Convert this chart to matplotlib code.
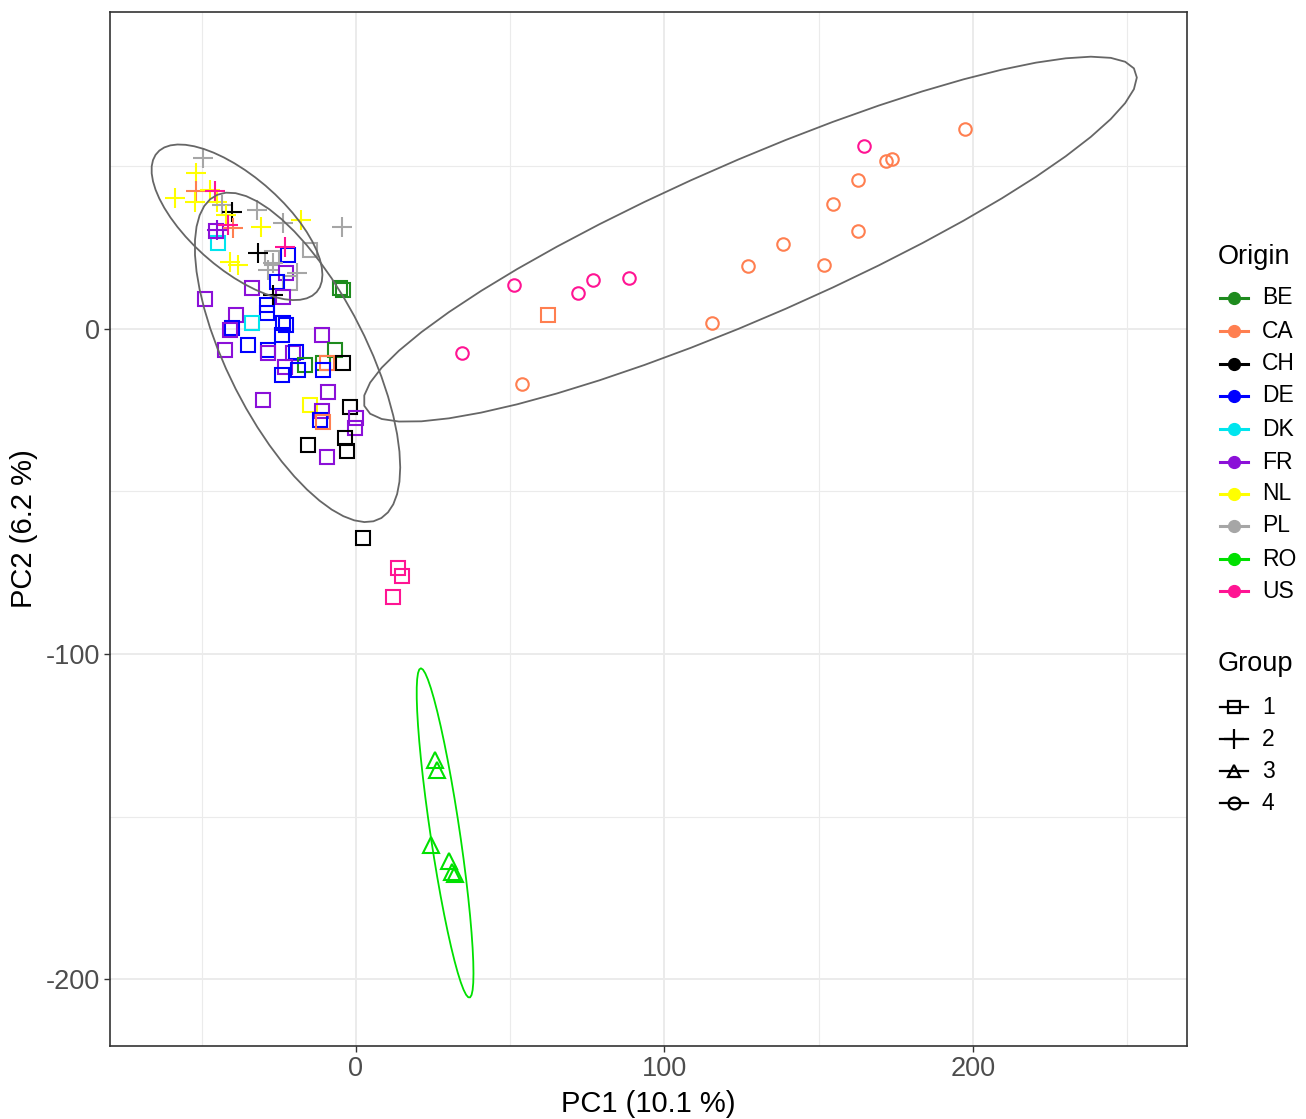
import numpy as np
import matplotlib
matplotlib.use("Agg")
import matplotlib.pyplot as plt
from matplotlib.lines import Line2D
from matplotlib.patches import Polygon
from matplotlib.ticker import MultipleLocator

plt.rcParams['font.family'] = ['Liberation Sans', 'DejaVu Sans']
plt.rcParams['axes.unicode_minus'] = False

# ---------------- data ----------------
origins = ["BE", "CA", "CH", "DE", "DK", "FR", "NL", "PL", "RO", "US"]
origin_colors = ["#1E8B1E", "#FF7F50", "#000000", "#0000FF", "#00E5EE",
                 "#8B10D8", "#FFFF00", "#A6A6A6", "#00E000", "#FF1493"]
groups = ["1", "2", "3", "4"]
group_markers = ["s", "+", "^", "o"]

# group 2 (crosses)
g2_origin = ["PL", "NL", "NL", "CA", "NL", "NL", "US", "NL", "PL", "CH",
             "PL", "NL", "CA", "US", "FR", "NL", "PL", "NL", "PL", "CH",
             "US", "NL", "NL", "PL", "PL", "CH", "PL"]
g2_pc1 = [-49.5, -51.7, -58.7, -51.7, -52.2, -47.3, -45.7, -45.1, -43.5, -40.3,
          -32.2, -42.0, -39.8, -41.4, -45.1, -30.6, -23.6, -17.7, -4.6, -31.7,
          -23.0, -40.8, -38.1, -28.4, -19.2, -26.8, -27.0]
g2_pc2 = [52.5, 47.9, 40.2, 42.3, 39.2, 42.8, 42.3, 39.2, 38.2, 36.1,
          36.6, 35.0, 31.0, 32.0, 30.5, 31.5, 32.5, 33.5, 31.5, 23.3,
          25.3, 20.7, 19.7, 18.2, 17.1, 10.5, 20.3]

# group 1 (squares)
g1_origin = ["DK", "DE", "PL", "PL", "FR", "PL", "FR", "DE", "FR", "BE",
             "BE", "FR", "FR", "DE", "DE", "DK", "DE", "FR", "DE", "DE",
             "DE", "DE", "FR", "DE", "FR", "FR", "FR", "DE", "BE", "BE",
             "FR", "DE", "DE", "BE", "CA", "DE", "CH", "FR", "FR", "NL",
             "CH", "FR", "DE", "CA", "FR", "FR", "CH", "CH", "CH", "FR",
             "CH", "US", "US", "US", "CA", "FR"]
g1_pc1 = [-44.6, -21.9, -14.9, -27.3, -22.5, -21.4, -33.8, -25.5, -23.6, -5.2,
          -4.1, -48.9, -38.8, -28.9, -28.9, -33.8, -40.3, -40.8, -23.6, -22.5,
          -24.1, -34.9, -42.5, -28.4, -28.4, -11.1, -20.3, -19.5, -6.8, -16.5,
          -23.0, -24.1, -18.7, -10.6, -9.5, -10.6, -4.1, -8.9, -30.0, -14.9,
          -1.9, -11.1, -11.7, -10.6, 0.2, -0.3, -15.5, -3.6, -3.0, -9.5,
          2.2, 13.7, 15.1, 11.9, 62.2, -45.5]
g1_pc2 = [26.3, 22.8, 24.3, 21.7, 17.1, 14.0, 12.5, 14.5, 9.8, 12.5,
          12.0, 9.3, 4.3, 7.4, 4.8, 1.7, 0.2, -0.3, 1.7, 1.2,
          -1.8, -4.9, -6.5, -6.5, -7.5, -1.8, -7.5, -7.0, -6.5, -11.1,
          -11.6, -14.2, -12.6, -10.6, -10.6, -12.6, -10.6, -19.3, -21.8, -23.4,
          -23.9, -25.4, -28.0, -28.5, -27.5, -30.6, -35.7, -33.6, -37.7, -39.3,
          -64.4, -73.6, -76.0, -82.4, 4.3, 30.0]

# group 3 (triangles)
g3_origin = ["RO", "RO", "RO", "RO", "RO", "RO"]
g3_pc1 = [25.6, 26.3, 24.3, 30.1, 31.1, 32.0]
g3_pc2 = [-132.6, -135.7, -158.8, -163.7, -167.1, -167.8]

# group 4 (circles)
g4_origin = ["US", "US", "US", "US", "US", "US",
             "CA", "CA", "CA", "CA", "CA", "CA", "CA", "CA", "CA", "CA", "CA"]
g4_pc1 = [51.4, 72.1, 76.9, 88.6, 164.7, 34.4,
          53.8, 115.3, 127.0, 138.5, 151.8, 154.8, 162.9, 162.9, 171.9, 173.9, 197.6]
g4_pc2 = [13.4, 11.0, 15.1, 15.7, 56.4, -7.5,
          -16.8, 1.8, 19.3, 26.1, 19.8, 38.4, 45.9, 30.2, 51.8, 52.4, 61.5]

ellipse_colors = {"1": "#666666", "2": "#666666", "3": "#00E000", "4": "#666666"}

x_ticks = [0, 100, 200]
y_ticks = [-200, -100, 0]

# ---------------- helpers ----------------
def cov_trob(X, nu=5, maxit=25, tol=0.01):
    n, p = X.shape
    wt = np.ones(n)
    loc = X.mean(axis=0)
    w = np.sqrt(wt)
    Xc = X - loc
    for _ in range(maxit):
        w0 = w
        Xc = X - loc
        _, d, Vt = np.linalg.svd(np.sqrt(w / w.sum())[:, None] * Xc, full_matrices=False)
        wX = Xc @ Vt.T @ np.diag(1.0 / d)
        Q = (wX ** 2).sum(axis=1)
        w = (wt * (nu + p)) / (nu + Q)
        loc = (w[:, None] * X).sum(axis=0) / w.sum()
        if np.all(np.abs(w - w0) < tol):
            break
    sw = np.sqrt(w)[:, None] * Xc
    cov = sw.T @ sw / wt.sum()
    return cov, loc


def stat_ellipse(x, y, level=0.95, segments=51):
    X = np.column_stack([x, y]).astype(float)
    dfn = 2
    dfd = X.shape[0] - 1
    cov, center = cov_trob(X)
    fq = dfd / 2.0 * ((1 - level) ** (-2.0 / dfd) - 1)
    radius = np.sqrt(dfn * fq)
    ang = np.arange(segments) * 2 * np.pi / segments
    circ = np.column_stack([np.cos(ang), np.sin(ang)])
    L = np.linalg.cholesky(cov)
    return center + radius * (circ @ L.T)

# ---------------- figure ----------------
W, H = 1306, 1119
fig = plt.figure(figsize=(W / 100, H / 100), dpi=100)
ax = fig.add_axes([110 / W, 1 - 1046 / H, (1187 - 110) / W, (1046 - 12) / H])

ax.set_xlim(-79.7, 269.4)
ax.set_ylim(-220.6, 97.5)

ax.xaxis.set_minor_locator(MultipleLocator(50))
ax.yaxis.set_minor_locator(MultipleLocator(50))
ax.set_xticks(x_ticks)
ax.set_yticks(y_ticks)
ax.grid(which="major", color="#EBEBEB", lw=1.4, zorder=0)
ax.grid(which="minor", color="#EBEBEB", lw=0.8, zorder=0)
ax.set_axisbelow(True)
ax.tick_params(which="minor", length=0)
ax.tick_params(which="major", length=4, width=1, color="#333333",
               labelsize=19.5, labelcolor="#4D4D4D", pad=3)
for s in ax.spines.values():
    s.set_color("#333333")
    s.set_linewidth(1.2)

cmap = dict(zip(origins, origin_colors))

group_data = [
    ("1", g1_origin, g1_pc1, g1_pc2),
    ("2", g2_origin, g2_pc1, g2_pc2),
    ("3", g3_origin, g3_pc1, g3_pc2),
    ("4", g4_origin, g4_pc1, g4_pc2),
]
msizes = {"s": 9.5, "+": 15, "^": 12, "o": 9}

for g, org, px, py in group_data:
    mk = group_markers[groups.index(g)]
    for o, xv, yv in zip(org, px, py):
        c = cmap[o]
        if mk == "+":
            ax.plot(xv, yv, marker=mk, ms=msizes[mk], mew=1.5, color=c, ls="none", zorder=3)
        else:
            ax.plot(xv, yv, marker=mk, ms=msizes[mk], mew=1.5, mfc="none", mec=c, ls="none", zorder=3)

for g, org, px, py in group_data:
    pts = stat_ellipse(px, py)
    ax.add_patch(Polygon(pts, closed=True, fill=False, edgecolor=ellipse_colors[g],
                         lw=1.3, zorder=4, joinstyle="round"))

ax.set_xlabel("PC1 (10.1 %)", fontsize=21, color="black", labelpad=6)
ax.set_ylabel("PC2 (6.2 %)", fontsize=21, color="black", labelpad=6)

# ---------------- legends (manual) ----------------
def fx(px):
    return px / W

def fy(py):
    return 1 - py / H

fig.text(fx(1218), fy(257), "Origin", fontsize=19.5, va="center", ha="left")
oy = [298, 331, 364, 396, 429, 462, 494, 526, 559, 591]
for o, c, yy in zip(origins, origin_colors, oy):
    fig.add_artist(Line2D([fx(1220), fx(1248)], [fy(yy), fy(yy)], color=c, lw=2.2,
                          transform=fig.transFigure))
    fig.add_artist(Line2D([fx(1234)], [fy(yy)], marker="o", ms=8.5, color=c, mec=c,
                          transform=fig.transFigure))
    fig.text(fx(1262), fy(yy), o, fontsize=16.5, va="center", ha="left")

fig.text(fx(1218), fy(664), "Group", fontsize=19.5, va="center", ha="left")
gy = [707, 739, 771, 803]
for g, mk, yy in zip(groups, group_markers, gy):
    fig.add_artist(Line2D([fx(1220), fx(1248)], [fy(yy), fy(yy)], color="black", lw=1.6,
                          transform=fig.transFigure))
    if mk == "+":
        fig.add_artist(Line2D([fx(1234)], [fy(yy)], marker="+", ms=15, mew=1.6, color="black",
                              transform=fig.transFigure))
    else:
        fig.add_artist(Line2D([fx(1234)], [fy(yy)], marker=mk, ms=8.5, mew=1.6,
                              mfc="none", mec="black", transform=fig.transFigure))
    fig.text(fx(1262), fy(yy), g, fontsize=16.5, va="center", ha="left")

fig.savefig("out.png", dpi=100, facecolor="white")
